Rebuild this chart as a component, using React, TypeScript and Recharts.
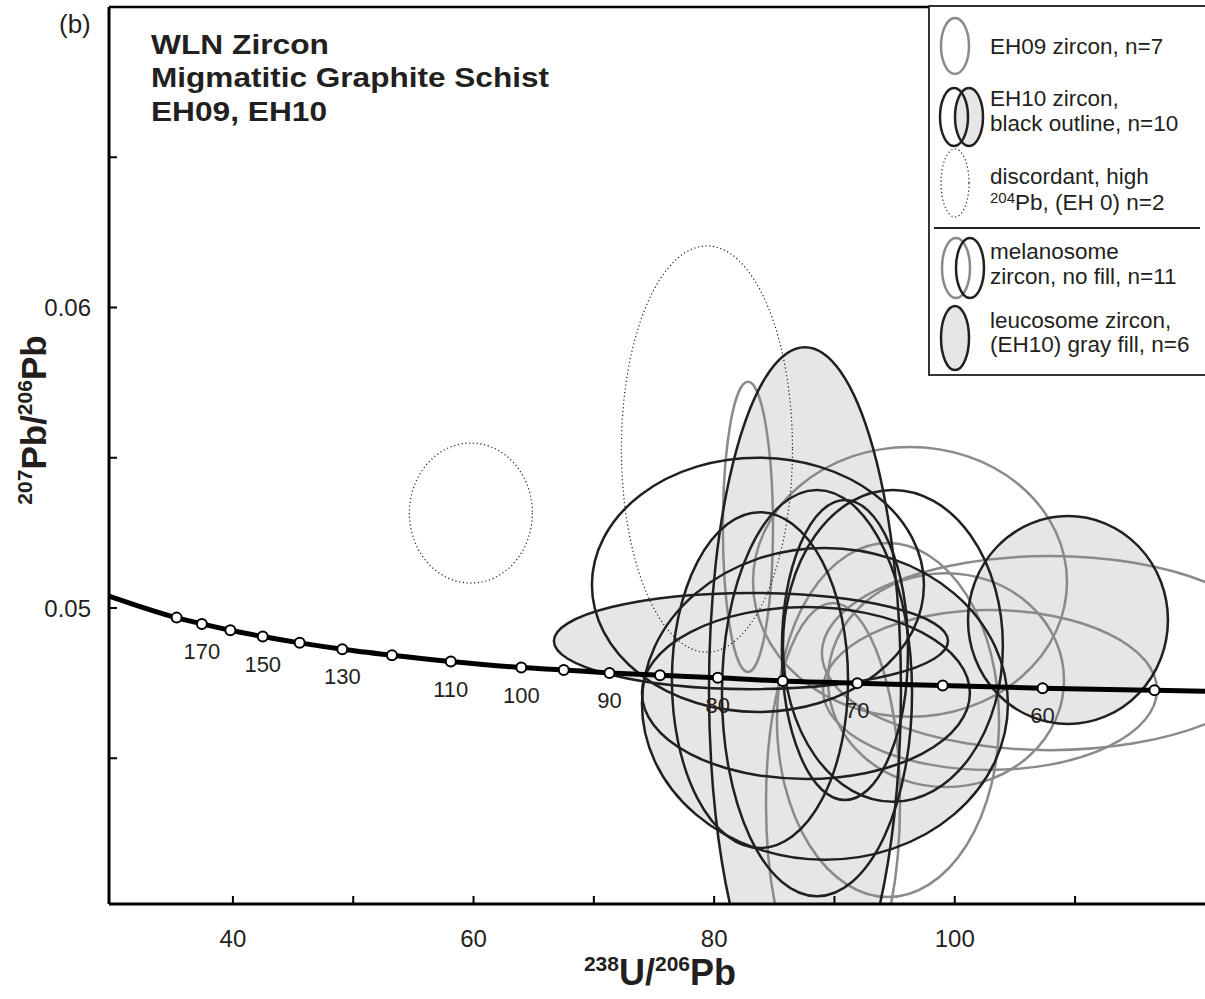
import {
  ComposedChart,
  XAxis,
  YAxis,
  Line,
  Scatter,
  ReferenceArea,
  ReferenceLine,
  LabelList,
} from "recharts";

const FONT = '"Liberation Sans", Arial, Helvetica, sans-serif';
const INK = "#231f20";
const GRAY = "#8a8a8a";
const FILL = "#e6e6e6";

// Tera-Wasserburg concordia: 238U/206Pb vs 207Pb/206Pb
// first and last entries are only the ends of the curve, the rest are the age marks
const curveAge = [213, 180, 170, 160, 150, 140, 130, 120, 110, 100, 95, 90, 85, 80, 75, 70, 65, 60, 55, 53];
const curveU = [29.7, 35.32, 37.42, 39.79, 42.48, 45.55, 49.09, 53.22, 58.11, 63.97, 67.5, 71.3, 75.5, 80.3, 85.7, 91.9, 99.0, 107.3, 116.6, 120.8];
const curvePb = [0.0504, 0.04968, 0.04947, 0.04926, 0.04905, 0.04884, 0.04863, 0.04843, 0.04822, 0.04802, 0.04794, 0.04784, 0.04776, 0.04768, 0.04757, 0.0475, 0.04742, 0.04733, 0.04726, 0.04723];
const labelledAges = [170, 150, 130, 110, 100, 90, 80, 70, 60];

// ellipses: [238U/206Pb, 207Pb/206Pb, half-width (U/Pb), half-height (Pb/Pb)]
const eh09 = [
  [82.81, 0.0527, 2.08, 0.00483],
  [96.28, 0.05087, 13.05, 0.00449],
  [107.91, 0.0485, 18.95, 0.00323],
  [102.93, 0.04727, 13.88, 0.00266],
  [99.27, 0.0476, 9.81, 0.00356],
  [94.45, 0.04627, 9.23, 0.00589],
  [89.88, 0.04351, 5.57, 0.00666],
];
const eh10Leucosome = [
  [87.55, 0.04727, 7.98, 0.01141],
  [109.41, 0.0496, 8.31, 0.00346],
  [83.06, 0.0489, 16.38, 0.0016],
  [89.21, 0.04681, 15.21, 0.00519],
  [87.63, 0.04717, 13.63, 0.00286],
  [83.81, 0.0476, 7.32, 0.00559],
];
const eh10Melanosome = [
  [83.64, 0.05077, 13.8, 0.00423],
  [94.86, 0.04874, 9.14, 0.00519],
  [88.55, 0.04717, 7.9, 0.00676],
  [90.87, 0.0486, 5.24, 0.00499],
];
const discordant = [
  [59.78, 0.05316, 5.11, 0.00233],
  [79.4, 0.05529, 7.11, 0.00676],
];

const xTicks = [40, 50, 60, 70, 80, 90, 100, 110];
const yTicks = [0.045, 0.05, 0.055, 0.06, 0.065];

const curve = curveU.map((x, i) => ({ x, y: curvePb[i], age: curveAge[i] }));
const marks = curve.slice(1, -1).map((p) => ({
  ...p,
  label: labelledAges.includes(p.age) ? String(p.age) : "",
}));

type Style = { fill: string; stroke: string; strokeWidth: number; dash?: string };

const ellipseShape = (s: Style) => (p: any) => (
  <ellipse
    cx={p.x + p.width / 2}
    cy={p.y + p.height / 2}
    rx={Math.abs(p.width) / 2}
    ry={Math.abs(p.height) / 2}
    clipPath={p.clipPath}
    fill={s.fill}
    stroke={s.stroke}
    strokeWidth={s.strokeWidth}
    strokeDasharray={s.dash}
  />
);

function ellipses(list: number[][], key: string, s: Style) {
  return list.map((e, i) => (
    <ReferenceArea
      key={key + i}
      x1={e[0] - e[2]}
      x2={e[0] + e[2]}
      y1={e[1] - e[3]}
      y2={e[1] + e[3]}
      ifOverflow="hidden"
      shape={ellipseShape(s)}
    />
  ));
}

const markShape = (p: any) => (
  <circle cx={p.cx} cy={p.cy} r={5} fill="#fff" stroke="#000" strokeWidth={2} />
);

function Overlay() {
  const lg = { fontSize: 22.5, fill: INK, fontFamily: FONT };
  return (
    <svg
      width={1205}
      height={999}
      style={{ position: "absolute", left: 0, top: 0, pointerEvents: "none" }}
    >
      <text x={59} y={33} fontSize={26} fill={INK} fontFamily={FONT}>(b)</text>
      <g fontFamily={FONT} fontWeight="bold" fontSize={27} fill={INK}>
        <text x={151} y={54} textLength={178} lengthAdjust="spacingAndGlyphs">WLN Zircon</text>
        <text x={151} y={87} textLength={398} lengthAdjust="spacingAndGlyphs">Migmatitic Graphite Schist</text>
        <text x={151} y={121} textLength={176} lengthAdjust="spacingAndGlyphs">EH09, EH10</text>
      </g>

      {/* axis titles */}
      <text x={660} y={985} textAnchor="middle" fontFamily={FONT} fontWeight="bold" fontSize={36} fill={INK}>
        <tspan fontSize={21} dy={-14}>238</tspan>
        <tspan dy={14}>U/</tspan>
        <tspan fontSize={21} dy={-14}>206</tspan>
        <tspan dy={14}>Pb</tspan>
      </text>
      <text
        transform="translate(46,420) rotate(-90)"
        textAnchor="middle"
        fontFamily={FONT}
        fontWeight="bold"
        fontSize={35}
        fill={INK}
      >
        <tspan fontSize={21} dy={-14}>207</tspan>
        <tspan dy={14}>Pb/</tspan>
        <tspan fontSize={21} dy={-14}>206</tspan>
        <tspan dy={14}>Pb</tspan>
      </text>

      {/* legend */}
      <rect x={929} y={6} width={300} height={369} fill="#fff" stroke={INK} strokeWidth={1.8} />
      <ellipse cx={955} cy={46} rx={14} ry={28} fill="none" stroke={GRAY} strokeWidth={2.5} />
      <text x={990} y={54} {...lg}>EH09 zircon, n=7</text>

      <ellipse cx={969} cy={117} rx={14} ry={29} fill={FILL} stroke={INK} strokeWidth={2.5} />
      <ellipse cx={954} cy={117} rx={14} ry={29} fill="none" stroke={INK} strokeWidth={2.5} />
      <text x={990} y={106} {...lg}>EH10 zircon,</text>
      <text x={990} y={131} {...lg}>black outline, n=10</text>

      <ellipse cx={955} cy={183} rx={14} ry={34} fill="none" stroke={INK} strokeWidth={1.2} strokeDasharray="1.2 2.6" />
      <text x={990} y={184} {...lg}>discordant, high</text>
      <text x={990} y={210} {...lg}>
        <tspan fontSize={15} dy={-7}>204</tspan>
        <tspan dy={7}>Pb, (EH 0) n=2</tspan>
      </text>

      <line x1={934} y1={228} x2={1200} y2={228} stroke={INK} strokeWidth={2} />

      <ellipse cx={956} cy={268} rx={14} ry={30} fill="none" stroke={GRAY} strokeWidth={2.5} />
      <ellipse cx={970} cy={268} rx={14} ry={30} fill="none" stroke={INK} strokeWidth={2.5} />
      <text x={990} y={259} {...lg}>melanosome</text>
      <text x={990} y={284} {...lg}>zircon, no fill, n=11</text>

      <ellipse cx={955} cy={338} rx={14} ry={32} fill={FILL} stroke={INK} strokeWidth={2.5} />
      <text x={990} y={328} {...lg}>leucosome zircon,</text>
      <text x={990} y={352} {...lg}>(EH10) gray fill, n=6</text>
    </svg>
  );
}

export default function App() {
  const tick = { fontSize: 24, fill: INK, fontFamily: FONT };
  return (
    <div style={{ position: "absolute", left: 0, top: 0, width: 1205, height: 999, background: "#fff" }}>
      <ComposedChart width={1205} height={999} margin={{ top: 7, right: 0, bottom: 0, left: 0 }}>
        {ellipses(eh10Leucosome, "fill", { fill: FILL, stroke: "none", strokeWidth: 0 })}
        {ellipses(eh09, "g", { fill: "none", stroke: GRAY, strokeWidth: 2.5 })}
        {ellipses(eh10Melanosome, "k", { fill: "none", stroke: INK, strokeWidth: 2.5 })}
        {ellipses(eh10Leucosome, "kf", { fill: "none", stroke: INK, strokeWidth: 2.5 })}
        {ellipses(discordant, "d", { fill: "none", stroke: INK, strokeWidth: 1.2, dash: "1.2 2.6" })}

        <XAxis
          type="number"
          dataKey="x"
          domain={[29.7, 120.8]}
          allowDataOverflow
          ticks={xTicks}
          tickFormatter={(v: number) => (v % 20 === 0 ? String(v) : "")}
          height={95}
          tickSize={-8}
          tickMargin={34}
          tick={tick}
          axisLine={{ stroke: "#000", strokeWidth: 3 }}
          tickLine={{ stroke: "#000", strokeWidth: 2 }}
        />
        <YAxis
          type="number"
          dataKey="y"
          domain={[0.04015, 0.07]}
          allowDataOverflow
          ticks={yTicks}
          tickFormatter={(v: number) => (Math.round(v * 1000) % 10 === 0 ? v.toFixed(2) : "")}
          width={109}
          tickSize={-8}
          tickMargin={26}
          tick={tick}
          axisLine={{ stroke: "#000", strokeWidth: 3 }}
          tickLine={{ stroke: "#000", strokeWidth: 2 }}
        />
        <ReferenceLine y={0.07} stroke="#000" strokeWidth={2.5} />

        <Line
          data={curve}
          dataKey="y"
          type="monotone"
          stroke="#000"
          strokeWidth={5}
          dot={false}
          isAnimationActive={false}
        />
        <Scatter data={marks} dataKey="y" shape={markShape} isAnimationActive={false}>
          <LabelList dataKey="label" position="bottom" offset={15} style={{ fontSize: 22, fill: INK, fontFamily: FONT }} />
        </Scatter>
      </ComposedChart>
      <Overlay />
    </div>
  );
}
